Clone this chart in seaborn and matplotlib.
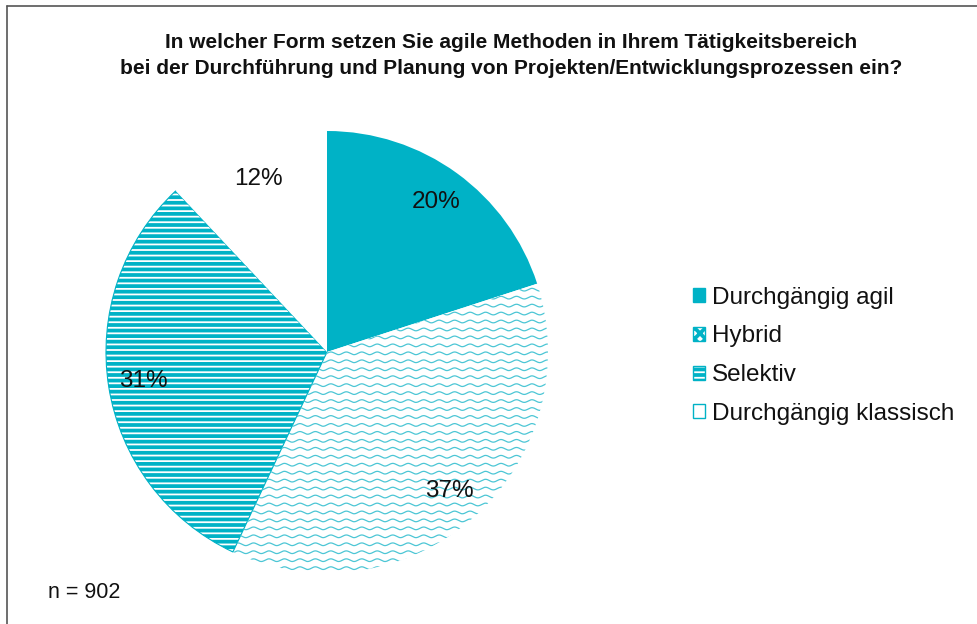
import numpy as np
import matplotlib
matplotlib.use("Agg")
import matplotlib.pyplot as plt
import seaborn as sns
from matplotlib.patches import Patch
from matplotlib.lines import Line2D

categories = ["Durchgängig agil", "Hybrid", "Selektiv", "Durchgängig klassisch"]
values = [20, 37, 31, 12]
title_lines = ["In welcher Form setzen Sie agile Methoden in Ihrem Tätigkeitsbereich",
               "bei der Durchführung und Planung von Projekten/Entwicklungsprozessen ein?"]
note = "n = 902"

TEAL = "#00B2C6"

sns.set_theme(style="white")
plt.rcParams["font.family"] = ["Liberation Sans", "DejaVu Sans"]
plt.rcParams["hatch.linewidth"] = 2.7
plt.rcParams["text.color"] = "#111111"

fig = plt.figure(figsize=(9.78, 6.24), dpi=100)
ax = fig.add_axes([106 / 978, (624 - 573) / 624, 442 / 978, 442 / 624])

wedges, texts, autotexts = ax.pie(
    values, startangle=90, counterclock=False, radius=1,
    autopct=lambda p: f"{p:.0f}%", pctdistance=0.84,
    textprops=dict(fontsize=17.5, color="#111111"),
    wedgeprops=dict(linewidth=0))

styles = [
    dict(facecolor=TEAL, edgecolor=TEAL, hatch=None),
    dict(facecolor="white", edgecolor="white", hatch=None),
    dict(facecolor="white", edgecolor=TEAL, hatch="---"),
    dict(facecolor="white", edgecolor="white", hatch=None),
]
for w, s in zip(wedges, styles):
    w.set_facecolor(s["facecolor"])
    w.set_edgecolor(s["edgecolor"])
    if s["hatch"]:
        w.set_hatch(s["hatch"])
    w.set_linewidth(0.8 if s["hatch"] else 0)

# wavy texture for Hybrid wedge
xs = np.linspace(-1.05, 1.05, 1500)
for y0 in np.arange(-1.05, 1.05, 0.036):
    ln = Line2D(xs, y0 + 0.006 * np.sin(2 * np.pi * xs / 0.07), color="#4CC6D5", lw=0.9)
    ax.add_line(ln)
    ln.set_clip_path(wedges[1])
for t in autotexts:
    t.set_zorder(5)

ax.set_xlim(-1, 1)
ax.set_ylim(-1, 1)
ax.set_aspect("equal")
ax.axis("off")

handles = [
    Patch(facecolor=TEAL, edgecolor=TEAL),
    Patch(facecolor="white", edgecolor=TEAL, hatch="xxx", linewidth=1),
    Patch(facecolor="white", edgecolor=TEAL, hatch="---", linewidth=1),
    Patch(facecolor="white", edgecolor=TEAL, linewidth=1),
]
fig.legend(handles, categories, loc="upper left", bbox_to_anchor=(683 / 978, 1 - 277 / 624),
           frameon=False, fontsize=17.5, handlelength=0.5, handleheight=0.5,
           handletextpad=0.3, labelspacing=0.69, borderaxespad=0)

fig.text(511 / 978, 1 - 42 / 624, title_lines[0], ha="center", va="center",
         fontsize=15, fontweight="bold")
fig.text(511 / 978, 1 - 68 / 624, title_lines[1], ha="center", va="center",
         fontsize=15, fontweight="bold")
fig.text(48 / 978, 1 - 592 / 624, note, ha="left", va="center", fontsize=15.5)

# frame lines (top and left)
fig.add_artist(Line2D([7 / 978, 1], [1 - 6 / 624, 1 - 6 / 624], transform=fig.transFigure,
                      color="#555555", lw=1.2))
fig.add_artist(Line2D([7 / 978, 7 / 978], [0, 1 - 6 / 624], transform=fig.transFigure,
                      color="#555555", lw=1.2))

fig.savefig("out.png", dpi=100, facecolor="white")
